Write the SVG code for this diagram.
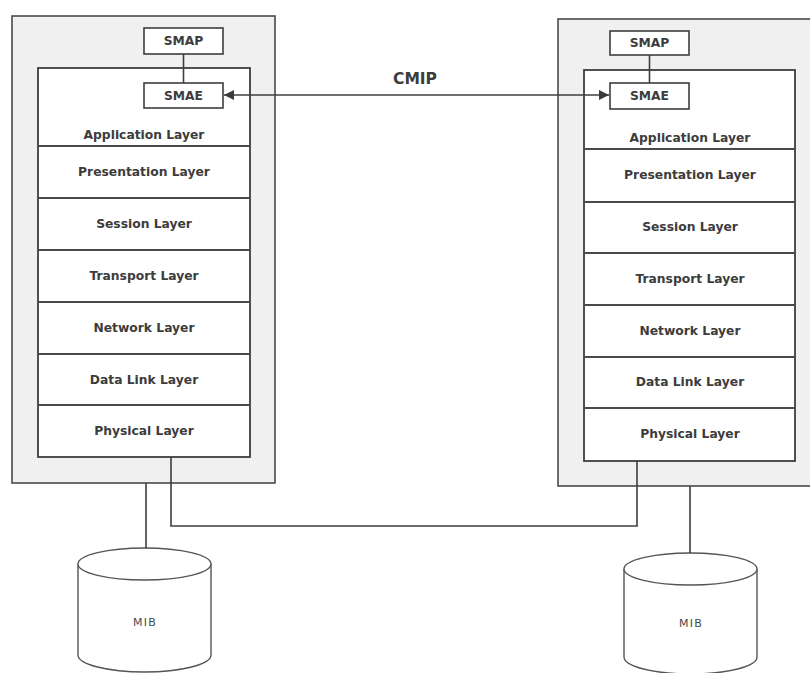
<svg xmlns="http://www.w3.org/2000/svg" width="810" height="673" viewBox="0 0 810 673">
  <defs>
    <marker id="arrow" viewBox="0 0 10 10" refX="10" refY="5" markerWidth="10" markerHeight="10" markerUnits="userSpaceOnUse" orient="auto-start-reverse">
      <path d="M0,0 L10,5 L0,10 z" fill="#3a3a3a"/>
    </marker>
  </defs>
  <style>
    .outer { fill: #f0f0f0; stroke: #4a4a4a; stroke-width: 1.6; }
    .inner { fill: #ffffff; stroke: #3e3e3e; stroke-width: 1.8; }
    .box { fill: #ffffff; stroke: #3e3e3e; stroke-width: 1.6; }
    .div { stroke: #4a4a4a; stroke-width: 1.8; }
    .wire { fill: none; stroke: #3e3e3e; stroke-width: 1.6; }
    .lbl { font-family: "DejaVu Sans", "Liberation Sans", sans-serif; font-weight: bold; font-size: 12.3px; fill: #3c3c3c; text-anchor: middle; dominant-baseline: central; }
    .cmip { font-family: "DejaVu Sans", "Liberation Sans", sans-serif; font-weight: bold; font-size: 15.5px; fill: #3c3c3c; text-anchor: middle; dominant-baseline: central; }
    .mib { font-family: "DejaVu Sans", "Liberation Sans", sans-serif; font-size: 11px; fill: #4a4a4a; text-anchor: middle; dominant-baseline: central; letter-spacing: 1.2px; }
    .cyl { fill: #ffffff; stroke: #555; stroke-width: 1.4; }
  </style>
  <rect width="810" height="673" fill="#ffffff"/>

  <!-- left station -->
  <g id="station-left">
    <rect class="outer" x="12" y="16" width="263" height="467"/>
    <rect class="inner" x="38" y="68" width="212" height="389"/>
    <line class="div" x1="38" y1="146" x2="250" y2="146"/>
    <line class="div" x1="38" y1="198" x2="250" y2="198"/>
    <line class="div" x1="38" y1="250" x2="250" y2="250"/>
    <line class="div" x1="38" y1="302" x2="250" y2="302"/>
    <line class="div" x1="38" y1="354" x2="250" y2="354"/>
    <line class="div" x1="38" y1="405" x2="250" y2="405"/>
    <text class="lbl" x="144" y="135">Application Layer</text>
    <text class="lbl" x="144" y="172">Presentation Layer</text>
    <text class="lbl" x="144" y="224">Session Layer</text>
    <text class="lbl" x="144" y="276">Transport Layer</text>
    <text class="lbl" x="144" y="328">Network Layer</text>
    <text class="lbl" x="144" y="380">Data Link Layer</text>
    <text class="lbl" x="144" y="431">Physical Layer</text>
  </g>
  <g id="smap-left">
    <rect class="box" x="144" y="28" width="79" height="26"/>
    <text class="lbl" x="183.5" y="41">SMAP</text>
  </g>
  <g id="smae-left">
    <rect class="box" x="144" y="83" width="79" height="25"/>
    <text class="lbl" x="183.5" y="95.5">SMAE</text>
  </g>

  <!-- right station -->
  <g id="station-right">
    <rect class="outer" x="558" y="19" width="256" height="467"/>
    <rect class="inner" x="584" y="70" width="211" height="391"/>
    <line class="div" x1="584" y1="149" x2="795" y2="149"/>
    <line class="div" x1="584" y1="202" x2="795" y2="202"/>
    <line class="div" x1="584" y1="253" x2="795" y2="253"/>
    <line class="div" x1="584" y1="305" x2="795" y2="305"/>
    <line class="div" x1="584" y1="357" x2="795" y2="357"/>
    <line class="div" x1="584" y1="408" x2="795" y2="408"/>
    <text class="lbl" x="690" y="138">Application Layer</text>
    <text class="lbl" x="690" y="175">Presentation Layer</text>
    <text class="lbl" x="690" y="227">Session Layer</text>
    <text class="lbl" x="690" y="279">Transport Layer</text>
    <text class="lbl" x="690" y="331">Network Layer</text>
    <text class="lbl" x="690" y="382">Data Link Layer</text>
    <text class="lbl" x="690" y="434">Physical Layer</text>
  </g>
  <g id="smap-right">
    <rect class="box" x="610" y="31" width="79" height="24"/>
    <text class="lbl" x="649.5" y="43">SMAP</text>
  </g>
  <g id="smae-right">
    <rect class="box" x="610" y="83" width="79" height="26"/>
    <text class="lbl" x="649.5" y="96">SMAE</text>
  </g>

  <!-- management information bases -->
  <g id="mib-left">
    <path class="cyl" d="M78,564 L78,655 A66.5,17 0 0 0 211,655 L211,564 A66.5,16 0 0 0 78,564 Z"/>
    <path class="cyl" fill="none" d="M78,564 A66.5,16 0 0 0 211,564"/>
    <text class="mib" x="145" y="622">MIB</text>
  </g>
  <g id="mib-right">
    <path class="cyl" d="M624,569 L624,657 A66.5,17 0 0 0 757,657 L757,569 A66.5,16 0 0 0 624,569 Z"/>
    <path class="cyl" fill="none" d="M624,569 A66.5,16 0 0 0 757,569"/>
    <text class="mib" x="691" y="623">MIB</text>
  </g>

  <!-- connectors -->
  <g id="connectors">
    <line class="wire" x1="183.5" y1="54" x2="183.5" y2="83"/>
    <line class="wire" x1="649.5" y1="55" x2="649.5" y2="83"/>
    <line class="wire" x1="224" y1="95" x2="609" y2="95" marker-start="url(#arrow)" marker-end="url(#arrow)"/>
    <text class="cmip" x="415" y="79">CMIP</text>
    <polyline class="wire" points="171,457 171,526 637,526 637,461"/>
    <line class="wire" x1="146" y1="483" x2="146" y2="548"/>
    <line class="wire" x1="690" y1="486" x2="690" y2="553"/>
  </g>
</svg>
